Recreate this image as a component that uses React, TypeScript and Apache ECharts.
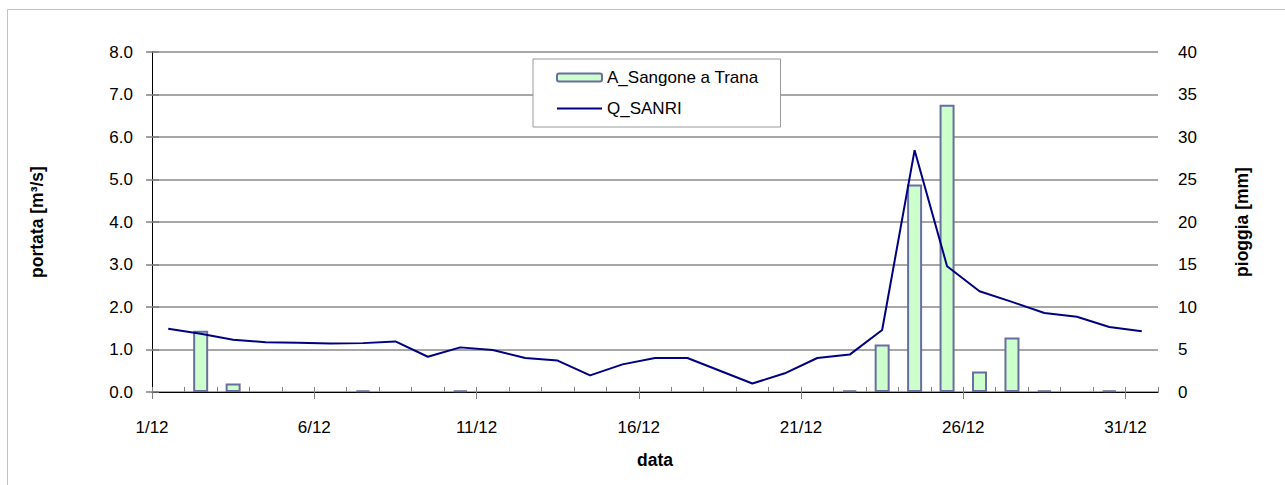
import React, { useEffect, useRef } from "react";
import * as echarts from "echarts";

const days = [
  "1/12", "2/12", "3/12", "4/12", "5/12", "6/12", "7/12", "8/12", "9/12", "10/12",
  "11/12", "12/12", "13/12", "14/12", "15/12", "16/12", "17/12", "18/12", "19/12", "20/12",
  "21/12", "22/12", "23/12", "24/12", "25/12", "26/12", "27/12", "28/12", "29/12", "30/12",
  "31/12",
];

// Q_SANRI – portata [m3/s]
const portata = [
  1.49, 1.37, 1.23, 1.17, 1.16, 1.14, 1.15, 1.19, 0.83, 1.05,
  0.99, 0.80, 0.74, 0.39, 0.65, 0.80, 0.80, 0.50, 0.20, 0.44,
  0.80, 0.88, 1.46, 5.69, 2.96, 2.37, 2.12, 1.86, 1.77, 1.53,
  1.43,
];

// A_Sangone a Trana – pioggia [mm]
const pioggia = [
  0, 7.2, 1.0, 0, 0, 0, 0.2, 0, 0, 0.2,
  0, 0, 0, 0, 0, 0, 0, 0, 0, 0,
  0, 0.2, 5.6, 24.4, 33.8, 2.4, 6.4, 0.2, 0, 0.2,
  0,
];

const leftTicks = [0, 1, 2, 3, 4, 5, 6, 7, 8];
const rightTicks = [0, 5, 10, 15, 20, 25, 30, 35, 40];

const FONT = "'Liberation Sans', Arial, Helvetica, sans-serif";

export default function App() {
  const ref = useRef<HTMLDivElement>(null);

  useEffect(() => {
    if (!ref.current) return;
    const chart = echarts.init(ref.current, undefined, { renderer: "svg" });

    const majorIdx = days.map((_, i) => i).filter((i) => i % 5 === 0);
    const lineData = portata.map((v, i) => [i + 0.5, v]);
    const barData = pioggia
      .map((v, i) => [i + 0.5, v])
      .filter((d) => d[1] > 0);

    const option: any = {
      animation: false,
      backgroundColor: "#ffffff",
      textStyle: { fontFamily: FONT },
      graphic: [
        {
          type: "rect",
          silent: true,
          z: -10,
          shape: { x: 7.5, y: 9.5, width: 1400, height: 600 },
          style: { fill: "none", stroke: "#dcb9b9", lineWidth: 1 },
        },
      ],
      grid: { left: 152, right: 127, top: 52, bottom: 93 },
      legend: {
        orient: "vertical",
        left: 533,
        top: 59,
        itemWidth: 45,
        itemHeight: 8,
        itemGap: 14,
        padding: [10, 22, 10, 23],
        borderColor: "#999999",
        borderWidth: 1,
        backgroundColor: "#ffffff",
        textStyle: { fontSize: 17, color: "#000", fontFamily: FONT },
        data: [
          { name: "A_Sangone a Trana" },
          {
            name: "Q_SANRI",
            itemStyle: { color: "rgba(0,0,0,0)", borderWidth: 0, opacity: 0 },
          },
        ],
      },
      xAxis: [
        {
          type: "value",
          min: 0,
          max: days.length,
          interval: 5,
          position: "bottom",
          name: "data",
          nameLocation: "middle",
          nameGap: 59,
          nameTextStyle: { fontWeight: "bold", fontSize: 17.5, color: "#000", fontFamily: FONT },
          axisLine: { show: true, onZero: false, lineStyle: { color: "#000", width: 1 } },
          axisTick: {
            show: true,
            inside: false,
            length: 7,
            customValues: majorIdx,
            lineStyle: { color: "#808080", width: 1 },
          },
          axisLabel: {
            customValues: majorIdx,
            formatter: (v: number) => days[Math.round(v)] ?? "",
            margin: 27,
            fontSize: 17,
            color: "#000",
            fontFamily: FONT,
          },
          splitLine: { show: false },
        },
        {
          type: "value",
          min: 0,
          max: days.length,
          interval: 1,
          position: "bottom",
          axisLine: { show: false },
          axisTick: { show: true, inside: true, length: 5, lineStyle: { color: "#808080", width: 1 } },
          axisLabel: { show: false },
          splitLine: { show: false },
        },
      ],
      yAxis: [
        {
          type: "value",
          min: leftTicks[0],
          max: leftTicks[leftTicks.length - 1],
          interval: 1,
          position: "left",
          name: "portata [m³/s]",
          nameLocation: "middle",
          nameRotate: 90,
          nameGap: 106,
          nameTextStyle: { fontWeight: "bold", fontSize: 17.5, color: "#000", fontFamily: FONT },
          axisLine: { show: true, lineStyle: { color: "#000", width: 1 } },
          axisTick: { show: true, inside: false, length: 6, lineStyle: { color: "#808080", width: 1.5 } },
          axisLabel: {
            formatter: (v: number) => v.toFixed(1),
            margin: 19,
            fontSize: 17,
            color: "#000",
            fontFamily: FONT,
          },
          splitLine: { show: true, lineStyle: { color: "#8a8a8a", width: 1.5 } },
        },
        {
          type: "value",
          min: rightTicks[0],
          max: rightTicks[rightTicks.length - 1],
          interval: 5,
          position: "right",
          name: "pioggia [mm]",
          nameLocation: "middle",
          nameRotate: 90,
          nameGap: 75,
          nameTextStyle: { fontWeight: "bold", fontSize: 17.5, color: "#000", fontFamily: FONT },
          axisLine: { show: true, lineStyle: { color: "#000", width: 1 } },
          axisTick: { show: true, inside: false, length: 7, lineStyle: { color: "#808080", width: 1.5 } },
          axisLabel: { margin: 20, fontSize: 17, color: "#000", fontFamily: FONT },
          splitLine: { show: false },
        },
      ],
      series: [
        {
          name: "A_Sangone a Trana",
          type: "bar",
          xAxisIndex: 0,
          yAxisIndex: 1,
          barWidth: 15,
          data: barData,
          itemStyle: { color: "#ccffcc", borderColor: "#6a6d9f", borderWidth: 2 },
          z: 2,
        },
        {
          name: "Q_SANRI",
          type: "line",
          xAxisIndex: 0,
          yAxisIndex: 0,
          symbol: "none",
          data: lineData,
          lineStyle: { color: "#000080", width: 2 },
          itemStyle: { color: "#000080" },
          z: 3,
        },
      ],
    };

    chart.setOption(option);
    return () => chart.dispose();
  }, []);

  return (
    <div
      ref={ref}
      style={{ position: "absolute", left: 0, top: 0, width: 1285, height: 485 }}
    />
  );
}
